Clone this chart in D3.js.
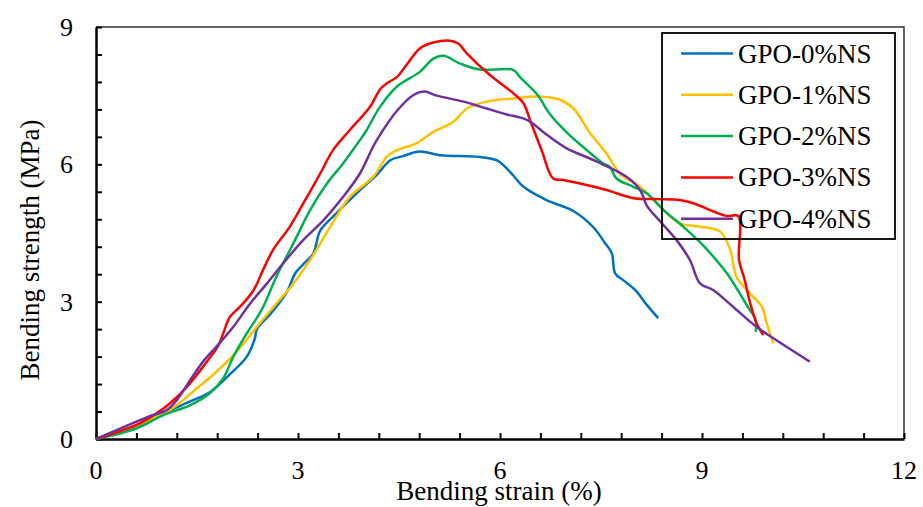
<!DOCTYPE html>
<html>
<head>
<meta charset="utf-8">
<script src="https://cdn.jsdelivr.net/npm/d3@7"></script>
<style>
  body { margin: 0; background: #fff; }
  text { font-family: "Times New Roman", "Liberation Serif", serif; fill: #000; }
</style>
</head>
<body>
<script>
// strain (%) / strength (MPa)
const names = ["GPO-0%NS", "GPO-1%NS", "GPO-2%NS", "GPO-3%NS", "GPO-4%NS"];
const colors = ["#0070C0", "#FFC000", "#00B050", "#FF0000", "#7030A0"];

const ns0 = [[0,0],[0.6,0.28],[1.0,0.56],[1.4,0.82],[1.7,1.03],[2.0,1.43],[2.24,1.8],[2.36,2.2],[2.39,2.4],[2.6,2.75],[2.83,3.2],[2.96,3.62],[3.08,3.82],[3.23,4.06],[3.33,4.55],[3.57,4.93],[3.92,5.44],[4.17,5.77],[4.37,6.09],[4.56,6.18],[4.81,6.28],[5.11,6.2],[5.7,6.16],[5.95,6.09],[6.1,5.91],[6.2,5.75],[6.35,5.51],[6.69,5.22],[7.09,4.98],[7.39,4.62],[7.55,4.3],[7.66,4.06],[7.71,3.62],[7.83,3.47],[8.01,3.25],[8.18,2.93],[8.35,2.64]];
const ns1 = [[0,0],[0.6,0.3],[1.0,0.56],[1.2,0.74],[1.5,1.11],[1.79,1.47],[2.09,1.91],[2.39,2.45],[2.68,2.96],[2.88,3.3],[3.18,3.91],[3.48,4.64],[3.77,5.29],[4.12,5.73],[4.32,6.17],[4.47,6.31],[4.76,6.46],[5.01,6.71],[5.31,6.93],[5.51,7.22],[5.8,7.37],[6.2,7.44],[6.55,7.48],[6.89,7.41],[7.09,7.22],[7.34,6.68],[7.58,6.24],[7.78,5.8],[8.08,5.51],[8.38,5.07],[8.67,4.71],[8.97,4.64],[9.27,4.53],[9.42,4.13],[9.51,3.55],[9.71,3.18],[9.89,2.89],[9.96,2.53],[10.06,2.09]];
const ns2 = [[0,0],[0.6,0.23],[1.0,0.52],[1.4,0.74],[1.69,1.0],[1.89,1.33],[2.04,1.8],[2.24,2.31],[2.46,2.82],[2.68,3.55],[2.93,4.27],[3.18,5.0],[3.43,5.58],[3.67,6.02],[3.92,6.53],[4.02,6.75],[4.22,7.26],[4.47,7.7],[4.81,8.02],[5.01,8.31],[5.16,8.37],[5.41,8.2],[5.7,8.07],[6.2,8.06],[6.3,7.9],[6.55,7.53],[6.74,7.1],[6.99,6.7],[7.29,6.31],[7.53,6.02],[7.63,5.95],[7.73,5.69],[7.98,5.51],[8.18,5.37],[8.43,5.0],[8.72,4.64],[8.97,4.3],[9.17,3.98],[9.37,3.62],[9.56,3.18],[9.71,2.82],[9.79,2.64],[9.8,2.34]];
const ns3 = [[0,0],[0.6,0.31],[0.9,0.56],[1.1,0.78],[1.35,1.14],[1.59,1.58],[1.82,2.05],[1.89,2.31],[1.99,2.67],[2.14,2.89],[2.34,3.25],[2.48,3.69],[2.63,4.13],[2.88,4.64],[3.08,5.15],[3.33,5.8],[3.52,6.31],[3.77,6.75],[4.07,7.26],[4.22,7.64],[4.32,7.77],[4.47,7.91],[4.61,8.17],[4.81,8.53],[5.01,8.66],[5.26,8.7],[5.38,8.64],[5.51,8.42],[5.85,7.95],[6.2,7.55],[6.35,7.33],[6.45,6.95],[6.62,6.3],[6.79,5.69],[6.94,5.66],[7.19,5.58],[7.58,5.44],[7.98,5.26],[8.28,5.24],[8.67,5.22],[8.87,5.15],[9.17,4.97],[9.37,4.87],[9.54,4.87],[9.55,3.91],[9.63,3.5],[9.71,3.0],[9.81,2.53],[9.91,2.27]];
const ns4 = [[0,0],[0.6,0.38],[0.8,0.5],[1.05,0.63],[1.2,0.85],[1.4,1.29],[1.59,1.69],[1.79,2.02],[2.04,2.45],[2.29,2.96],[2.54,3.4],[2.78,3.84],[3.08,4.35],[3.38,4.78],[3.67,5.29],[3.92,5.8],[4.12,6.4],[4.22,6.65],[4.47,7.17],[4.71,7.51],[4.88,7.59],[5.06,7.5],[5.46,7.37],[5.8,7.22],[6.1,7.09],[6.4,6.97],[6.69,6.65],[6.99,6.35],[7.39,6.09],[7.88,5.73],[8.08,5.44],[8.18,5.1],[8.38,4.75],[8.62,4.35],[8.82,3.91],[8.97,3.4],[9.17,3.25],[9.46,2.89],[9.81,2.45],[10.06,2.2],[10.6,1.69]];
const series = [ns0, ns1, ns2, ns3, ns4];

const xMajor = [0, 3, 6, 9, 12];
const yMajor = [0, 3, 6, 9];

const W = 923, H = 507;
const svg = d3.select("body").append("svg").attr("width", W).attr("height", H);

const x = d3.scaleLinear().domain([0, 12]).range([96, 904]);
const y = d3.scaleLinear().domain([0, 9]).range([439, 27]);

// frame top / right
svg.append("path")
  .attr("d", `M${x(0)},${y(9)}H${x(12)}V${y(0)}`)
  .attr("fill", "none").attr("stroke", "#333").attr("stroke-width", 1.5);

// minor ticks every 0.6
const xt = d3.range(0, 12.001, 0.6);
const yt = d3.range(0, 9.001, 0.6);

const gx = svg.append("g").attr("transform", `translate(0,${y(0)})`)
  .call(d3.axisBottom(x).tickValues(xt).tickSizeInner(-6).tickSizeOuter(0).tickFormat(""));
const gy = svg.append("g").attr("transform", `translate(${x(0)},0)`)
  .call(d3.axisLeft(y).tickValues(yt).tickSizeInner(-6).tickSizeOuter(0).tickFormat(""));
[gx, gy].forEach(g => {
  g.select(".domain").attr("stroke", "#000").attr("stroke-width", 2.5);
  g.selectAll(".tick line").attr("stroke", "#000").attr("stroke-width", 2);
});

svg.selectAll(".xl").data(xMajor).enter().append("text")
  .attr("x", d => x(d)).attr("y", 479).attr("text-anchor", "middle")
  .attr("font-size", 26).text(d => d);
svg.selectAll(".yl").data(yMajor).enter().append("text")
  .attr("x", 73).attr("y", d => y(d) + 9).attr("text-anchor", "end")
  .attr("font-size", 26).text(d => d);

svg.append("text").attr("x", 499).attr("y", 500).attr("text-anchor", "middle")
  .attr("font-size", 27).text("Bending strain (%)");
svg.append("text").attr("transform", "translate(39,250) rotate(-90)")
  .attr("text-anchor", "middle").attr("font-size", 27).text("Bending strength (MPa)");

const line = d3.line().x(d => x(d[0])).y(d => y(d[1])).curve(d3.curveCatmullRom.alpha(0.5));

svg.selectAll(".curve").data(series).enter().append("path")
  .attr("d", line).attr("fill", "none")
  .attr("stroke", (d, i) => colors[i]).attr("stroke-width", 2.5)
  .attr("stroke-linejoin", "round");

// legend
const lg = svg.append("g");
lg.append("rect").attr("x", 662).attr("y", 33).attr("width", 233).attr("height", 206)
  .attr("fill", "none").attr("stroke", "#000").attr("stroke-width", 1.8);
names.forEach((n, i) => {
  const cy = 53.5 + i * 41.3;
  lg.append("line").attr("x1", 681).attr("x2", 733).attr("y1", cy).attr("y2", cy)
    .attr("stroke", colors[i]).attr("stroke-width", 2.5);
  lg.append("text").attr("x", 738).attr("y", cy + 9).attr("font-size", 27).text(n);
});
</script>
</body>
</html>
